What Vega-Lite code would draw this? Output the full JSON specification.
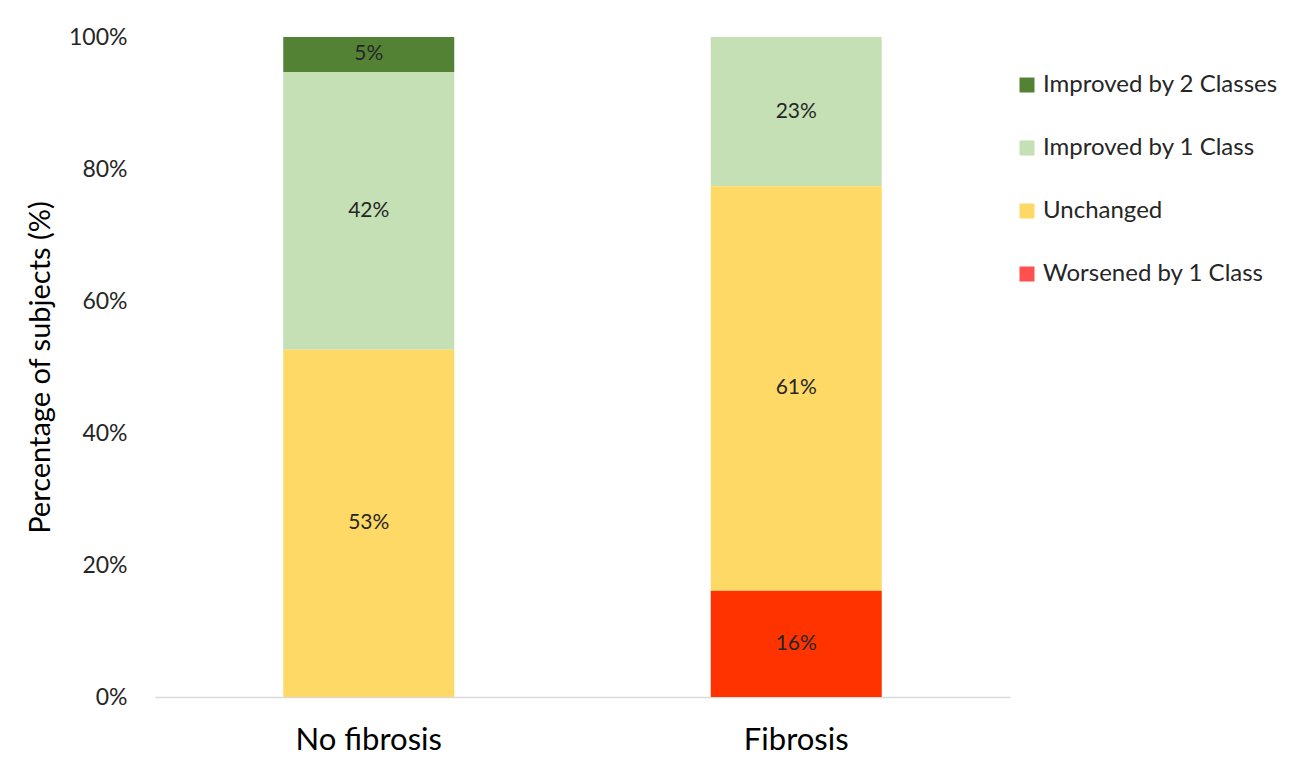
{
  "$schema": "https://vega.github.io/schema/vega-lite/v6.json",
  "autosize": "none",
  "width": 855,
  "height": 660,
  "padding": {"left": 155, "top": 37, "right": 292, "bottom": 65},
  "background": "white",
  "config": {
    "font": "Lato",
    "view": {"stroke": null}
  },
  "data": {
    "values": [
      {"group": "No fibrosis", "cat": "Improved by 2 Classes", "ord": 4, "value": 5.3, "label": "5%"},
      {"group": "No fibrosis", "cat": "Improved by 1 Class", "ord": 3, "value": 42.1, "label": "42%"},
      {"group": "No fibrosis", "cat": "Unchanged", "ord": 2, "value": 52.6, "label": "53%"},
      {"group": "Fibrosis", "cat": "Improved by 1 Class", "ord": 3, "value": 22.6, "label": "23%"},
      {"group": "Fibrosis", "cat": "Unchanged", "ord": 2, "value": 61.3, "label": "61%"},
      {"group": "Fibrosis", "cat": "Worsened by 1 Class", "ord": 1, "value": 16.1, "label": "16%"}
    ]
  },
  "encoding": {
    "x": {
      "field": "group",
      "type": "nominal",
      "sort": ["No fibrosis", "Fibrosis"],
      "scale": {"paddingInner": 0.6, "paddingOuter": 0.3},
      "axis": {
        "title": null,
        "labelAngle": 0,
        "labelFontSize": 31,
        "labelColor": "#000000",
        "labelPadding": 28,
        "ticks": false,
        "domainColor": "#D9D9D9",
        "domainWidth": 1.5
      }
    }
  },
  "layer": [
    {
      "mark": {"type": "bar"},
      "encoding": {
        "y": {
          "field": "value",
          "type": "quantitative",
          "stack": "zero",
          "scale": {"domain": [0, 100]},
          "axis": {
            "title": "Percentage of subjects (%)",
            "titleFontSize": 29,
            "titleFontWeight": "normal",
            "titleColor": "#000000",
            "titleX": -115,
            "titleY": 330,
            "titleAngle": -90,
            "titleAlign": "center",
            "titleBaseline": "middle",
            "values": [0, 20, 40, 60, 80, 100],
            "labelExpr": "datum.value + '%'",
            "labelFontSize": 23,
            "labelColor": "#262626",
            "labelPadding": 28,
            "ticks": false,
            "domain": false,
            "grid": false
          }
        },
        "order": {"field": "ord", "type": "quantitative", "sort": "ascending"},
        "color": {
          "condition": {"test": "datum.cat === 'Worsened by 1 Class'", "value": "#FF3300"},
          "field": "cat",
          "type": "nominal",
          "scale": {
            "domain": ["Improved by 2 Classes", "Improved by 1 Class", "Unchanged", "Worsened by 1 Class"],
            "range": ["#548235", "#C5E0B4", "#FFD966", "#FF5050"]
          },
          "legend": {
            "title": null,
            "orient": "none",
            "legendX": 860,
            "legendY": 36,
            "padding": 0,
            "symbolType": "square",
            "symbolSize": 225,
            "symbolStrokeWidth": 0,
            "labelFontSize": 24,
            "labelColor": "#262626",
            "labelOffset": 4,
            "rowPadding": 39,
            "labelLimit": 300
          }
        }
      }
    },
    {
      "transform": [
        {"stack": "value", "groupby": ["group"], "sort": [{"field": "ord", "order": "ascending"}], "as": ["y0", "y1"]},
        {"fold": ["y0", "y1"], "as": ["k", "v"]}
      ],
      "mark": {"type": "text", "fontSize": 21, "color": "#262626", "baseline": "middle"},
      "encoding": {
        "y": {"aggregate": "mean", "field": "v", "type": "quantitative", "stack": null},
        "text": {"field": "label", "type": "nominal"}
      }
    }
  ]
}
